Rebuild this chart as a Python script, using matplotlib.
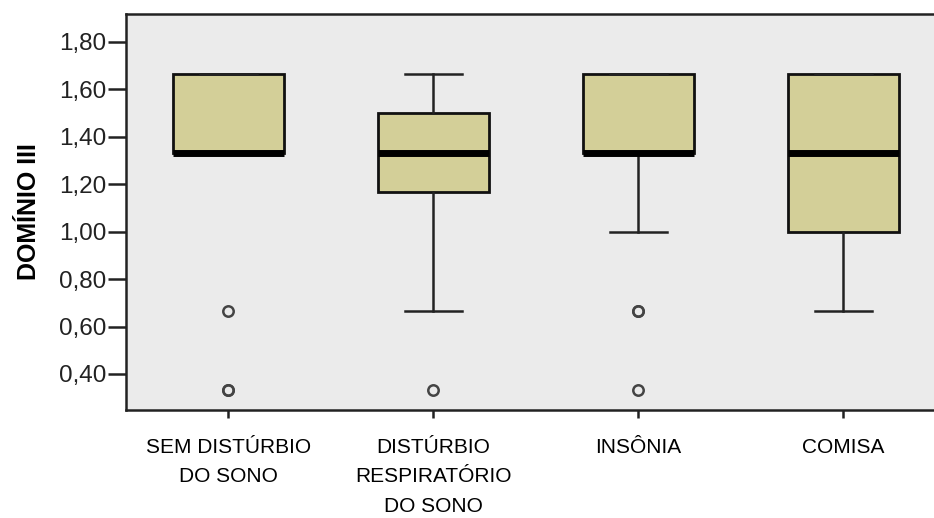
import matplotlib
matplotlib.use("Agg")
import matplotlib.pyplot as plt

categories = ["SEM DISTÚRBIO\nDO SONO", "DISTÚRBIO\nRESPIRATÓRIO\nDO SONO", "INSÔNIA", "COMISA"]
q1 = [1.333, 1.167, 1.333, 1.000]
median = [1.333, 1.333, 1.333, 1.333]
q3 = [1.667, 1.500, 1.667, 1.667]
whislo = [1.333, 0.667, 1.000, 0.667]
whishi = [1.667, 1.667, 1.667, 1.667]
outliers = [[0.667, 0.333, 0.333], [0.333], [0.667, 0.667, 0.333], []]
yticks = [0.40, 0.60, 0.80, 1.00, 1.20, 1.40, 1.60, 1.80]

fig = plt.figure(figsize=(9.34, 5.18), dpi=100)
ax = fig.add_axes([126/934, 1-410/518, 820/934, 396/518])
ax.set_facecolor("#ebebeb")

stats = []
for i in range(len(categories)):
    stats.append(dict(med=median[i], q1=q1[i], q3=q3[i], whislo=whislo[i],
                      whishi=whishi[i], fliers=outliers[i]))

ax.bxp(stats, positions=range(1, 5), widths=0.54, patch_artist=True,
       showfliers=True,
       boxprops=dict(facecolor="#d3cf98", edgecolor="#111111", linewidth=2),
       medianprops=dict(color="black", linewidth=5, solid_capstyle="butt"),
       whiskerprops=dict(color="#222222", linewidth=1.8),
       capprops=dict(color="#222222", linewidth=1.8),
       capwidths=0.28,
       flierprops=dict(marker="o", markersize=7.5, markerfacecolor="none",
                       markeredgecolor="#444444", markeredgewidth=1.8))

ax.set_xlim(0.5, 4.5)
ax.set_ylim(0.248, 1.918)
ax.set_yticks(yticks)
ax.set_yticklabels([f"{v:.2f}".replace(".", ",") for v in yticks],
                   fontsize=17.5, color="#222222", family="Liberation Sans")
ax.set_xticks(range(1, 5))
ax.set_xticklabels(categories, fontsize=15, family="Liberation Sans",
                   linespacing=1.7, color="black")
ax.tick_params(axis="y", length=13, width=1.8, pad=1, color="#222222")
ax.tick_params(axis="x", length=6, width=1.8, pad=14, color="#222222")
for s in ax.spines.values():
    s.set_linewidth(1.8)
    s.set_color("#222222")

ax.set_ylabel("DOMÍNIO III", fontsize=18, fontweight="bold",
              family="Liberation Sans")
ax.yaxis.set_label_coords(-0.104, 0.5)

fig.savefig("out.png", dpi=100)
